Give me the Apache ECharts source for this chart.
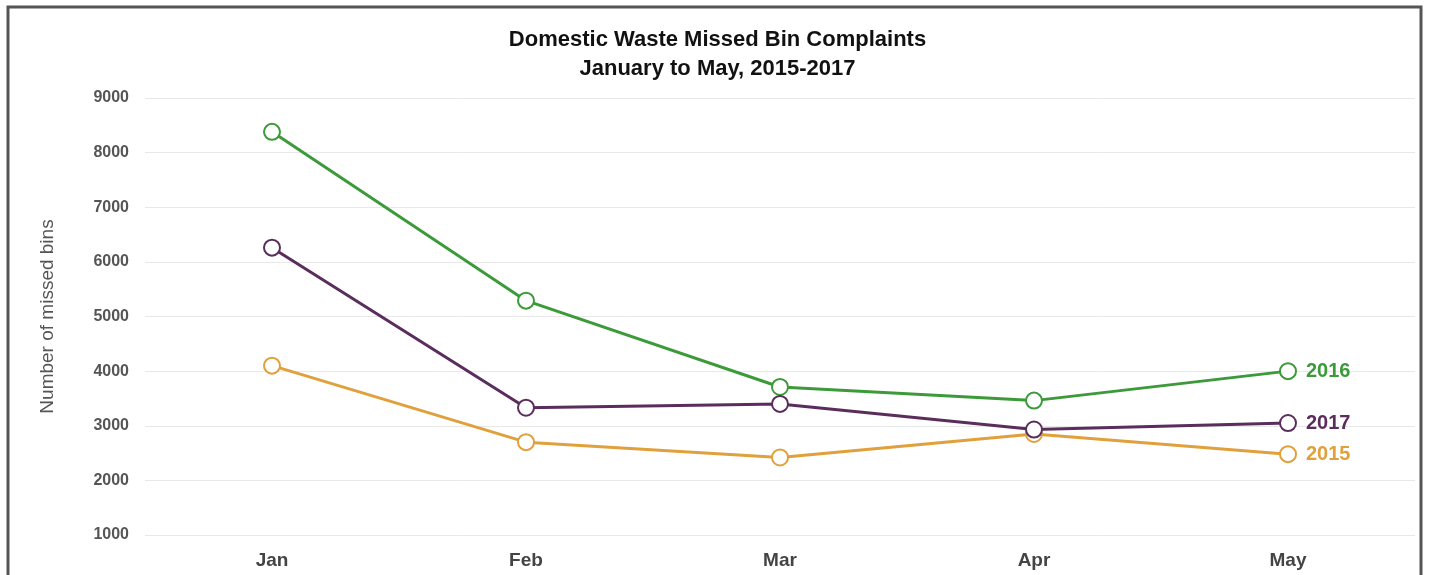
<!DOCTYPE html>
<html>
<head>
<meta charset="utf-8">
<title>Missed Bin Complaints</title>
<script src="https://cdn.jsdelivr.net/npm/echarts@6/dist/echarts.min.js"></script>
<style>
  html, body { margin: 0; padding: 0; background: #fff; }
  #chart { width: 1435px; height: 575px; }
</style>
</head>
<body>
<div id="chart"></div>
<script>
var months = ['Jan', 'Feb', 'Mar', 'Apr', 'May'];
var y2015 = [4100, 2700, 2420, 2850, 2480];
var y2016 = [8380, 5290, 3710, 3460, 4000];
var y2017 = [6260, 3330, 3400, 2930, 3050];

var myChart = echarts.init(document.getElementById('chart'));

function makeSeries(name, data, color) {
    return {
        name: name,
        type: 'line',
        data: data,
        symbol: 'emptyCircle',
        symbolSize: 16,
        lineStyle: { color: color, width: 3 },
        itemStyle: { color: color, borderColor: color, borderWidth: 2.5 },
        endLabel: {
            show: true,
            formatter: name,
            color: color,
            fontFamily: 'Arial, Liberation Sans, sans-serif',
            fontWeight: 'bold',
            fontSize: 20,
            distance: 18
        },
        animation: false
    };
}

myChart.setOption({
    animation: false,
    title: {
        text: 'Domestic Waste Missed Bin Complaints\nJanuary to May, 2015-2017',
        left: 'center',
        top: 20,
        textStyle: {
            fontFamily: 'Arial, Liberation Sans, sans-serif',
            fontWeight: 'bold',
            fontSize: 22,
            lineHeight: 29,
            color: '#111'
        }
    },
    graphic: [{
        type: 'rect',
        shape: { x: 8, y: 7, width: 1413, height: 600 },
        style: { fill: 'none', stroke: '#555', lineWidth: 3 },
        z: 100
    }],
    grid: { left: 145, right: 20, top: 98, bottom: 40 },
    xAxis: {
        type: 'category',
        data: months,
        boundaryGap: true,
        axisLine: { show: false },
        axisTick: { show: false },
        axisLabel: {
            fontFamily: 'Arial, Liberation Sans, sans-serif',
            fontWeight: 'bold',
            fontSize: 19,
            color: '#444',
            margin: 16
        }
    },
    yAxis: {
        type: 'value',
        min: 1000,
        max: 9000,
        interval: 1000,
        name: 'Number of missed bins',
        nameLocation: 'middle',
        nameGap: 88,
        nameTextStyle: {
            fontFamily: 'Arial, Liberation Sans, sans-serif',
            fontSize: 19,
            color: '#555'
        },
        axisLine: { show: false },
        axisTick: { show: false },
        axisLabel: {
            formatter: function (v) { return String(v); },
            fontFamily: 'Arial, Liberation Sans, sans-serif',
            fontWeight: 'bold',
            fontSize: 16,
            color: '#555',
            margin: 16
        },
        splitLine: { lineStyle: { color: '#e8e8e8', width: 1 } }
    },
    series: [
        makeSeries('2015', y2015, '#e0a03c'),
        makeSeries('2016', y2016, '#3d9a3a'),
        makeSeries('2017', y2017, '#5a2d5c')
    ]
});
window.onresize = myChart.resize;
</script>
</body>
</html>
